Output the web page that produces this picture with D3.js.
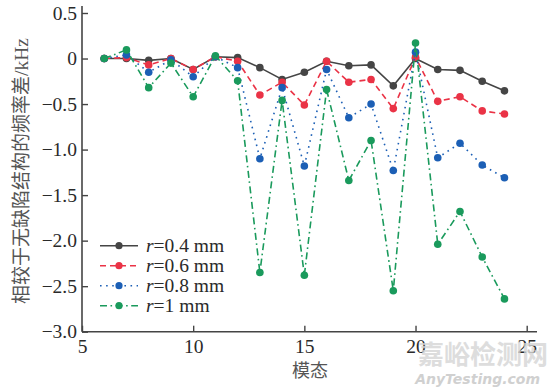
<!DOCTYPE html>
<html><head><meta charset="utf-8">
<script src="https://cdn.jsdelivr.net/npm/d3@7"></script>
<style>body{margin:0;background:#fff}</style>
</head><body><svg id="c" width="550" height="387"></svg>
<script>
const modes = [6,7,8,9,10,11,12,13,14,15,16,17,18,19,20,21,22,23,24];
const r04 = [0,0,-0.02,0,-0.12,0.02,0.01,-0.10,-0.23,-0.15,-0.03,-0.08,-0.07,-0.30,0.0,-0.12,-0.13,-0.25,-0.355];
const r06 = [0,0.01,-0.07,0,-0.12,0.02,-0.03,-0.40,-0.26,-0.51,-0.03,-0.26,-0.23,-0.55,0.015,-0.47,-0.42,-0.575,-0.61];
const r08 = [0,0.04,-0.15,-0.015,-0.20,0.02,-0.10,-1.10,-0.32,-1.18,-0.12,-0.65,-0.50,-1.23,0.07,-1.09,-0.93,-1.17,-1.31];
const r10 = [0,0.095,-0.32,-0.05,-0.42,0.03,-0.245,-2.35,-0.46,-2.38,-0.34,-1.34,-0.90,-2.55,0.17,-2.04,-1.68,-2.18,-2.64];
const seriesNames = ["0.4 mm","0.6 mm","0.8 mm","1 mm"];
const xTicks = [5,10,15,20,25];
const yTicks = [0.5,0,-0.5,-1.0,-1.5,-2.0,-2.5,-3.0];

const series = [
  {name:seriesNames[0], v:r04, color:"#454545", dash:null},
  {name:seriesNames[1], v:r06, color:"#ea3346", dash:"6,4"},
  {name:seriesNames[2], v:r08, color:"#1c5fb5", dash:"1.6,4.5"},
  {name:seriesNames[3], v:r10, color:"#1a9a5c", dash:"7,3.5,1.6,3.5"}
];

const svg = d3.select("#c");
const x = d3.scaleLinear().domain([5,25]).range([82,526.7]);
const y = d3.scaleLinear().domain([-3,0.5]).range([331.7,13]);
const serif = "'Liberation Serif','DejaVu Serif',serif";
const axisColor = "#444";

// axes
const xAxis = svg.append("g").attr("transform","translate(0,331.7)")
  .call(d3.axisBottom(x).tickValues(xTicks).tickSize(-6).tickPadding(7).tickFormat(d3.format("d")));
const yAxis = svg.append("g").attr("transform","translate(82,0)")
  .call(d3.axisLeft(y).tickValues(yTicks).tickSize(-6).tickPadding(5)
    .tickFormat(d => d===0 ? "0" : (d<0 ? "\u2212" : "") + Math.abs(d).toFixed(1)));
[xAxis,yAxis].forEach(g=>{
  g.select(".domain").remove();
  g.selectAll(".tick line").attr("stroke",axisColor).attr("stroke-width",1.4);
  g.selectAll(".tick text").attr("fill","#2a2a2a").style("font-family",serif).style("font-size","19.5px");
});
svg.append("line").attr("x1",82).attr("x2",537).attr("y1",331.7).attr("y2",331.7).attr("stroke",axisColor).attr("stroke-width",1.6);
svg.append("line").attr("x1",82).attr("x2",82).attr("y1",6).attr("y2",331.7).attr("stroke",axisColor).attr("stroke-width",1.6);

// lines
const line = d3.line().x((d,i)=>x(modes[i])).y(d=>y(d));
series.forEach(s=>{
  svg.append("path").datum(s.v).attr("d",line).attr("fill","none")
    .attr("stroke",s.color).attr("stroke-width",1.6)
    .attr("stroke-dasharray",s.dash);
  svg.append("g").selectAll("circle").data(s.v).join("circle")
    .attr("cx",(d,i)=>x(modes[i])).attr("cy",d=>y(d)).attr("r",3.8).attr("fill",s.color);
});

// legend
const leg = svg.append("g");
series.forEach((s,i)=>{
  const yy = 245.7 + i*20;
  leg.append("line").attr("x1",100).attr("x2",138).attr("y1",yy).attr("y2",yy)
    .attr("stroke",s.color).attr("stroke-width",1.6).attr("stroke-dasharray",s.dash);
  leg.append("circle").attr("cx",119).attr("cy",yy).attr("r",3.6).attr("fill",s.color);
  const t = leg.append("text").attr("x",146).attr("y",yy+6.5).attr("fill","#2a2a2a")
    .style("font-family",serif).style("font-size","19.5px");
  t.append("tspan").style("font-style","italic").text("r");
  t.append("tspan").text("=" + s.name);
});

// axis titles
svg.append("text").attr("x",310).attr("y",377).attr("text-anchor","middle").attr("fill","#555")
  .style("font-family","'Noto Sans CJK SC',sans-serif").style("font-size","18px").text("模态");
const yl = svg.append("text").attr("transform","translate(28,171) rotate(-90)").attr("text-anchor","middle").attr("fill","#555")
  .style("font-family","'Noto Sans CJK SC',sans-serif").style("font-size","19px");
yl.append("tspan").text("相较于无缺陷结构的频率差");
yl.append("tspan").style("font-family",serif).style("font-size","19.5px").text("/kHz");

// watermark
svg.append("text").attr("x",548).attr("y",364).attr("text-anchor","end").attr("fill","#d5d5d5").attr("opacity",0.8)
  .style("font-family","'Noto Sans CJK SC',sans-serif").style("font-size","26px").style("font-weight","bold").text("嘉峪检测网");
svg.append("text").attr("x",540).attr("y",384).attr("text-anchor","end").attr("fill","#d0d0d0")
  .style("font-family","'DejaVu Sans',sans-serif").style("font-size","14px").style("font-style","italic").style("font-weight","bold").text("AnyTesting.com");
</script></body></html>
